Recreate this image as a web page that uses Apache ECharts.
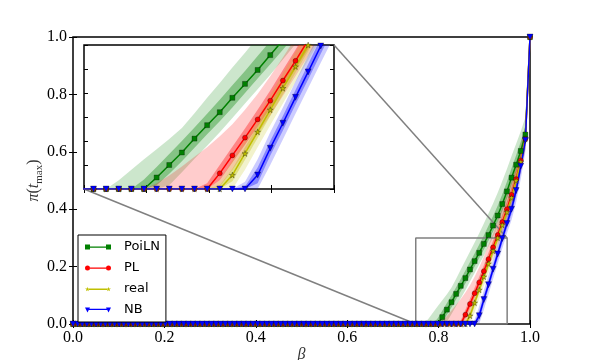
<!DOCTYPE html>
<html><head><meta charset="utf-8">
<script src="https://cdn.jsdelivr.net/npm/echarts@6/dist/echarts.min.js"></script>
<style>html,body{margin:0;padding:0;background:#fff}#c{width:590px;height:360px}</style>
</head><body><div id="c"></div>
<script>
// beta grid (100 samples from 0 to 1)
const betas = [0,.0101,.0202,.0303,.0404,.0505,.0606,.0707,.0808,.0909,
.1010,.1111,.1212,.1313,.1414,.1515,.1616,.1717,.1818,.1919,
.2020,.2121,.2222,.2323,.2424,.2525,.2626,.2727,.2828,.2929,
.3030,.3131,.3232,.3333,.3434,.3535,.3636,.3737,.3838,.3939,
.4040,.4141,.4242,.4343,.4444,.4545,.4646,.4747,.4848,.4949,
.5051,.5152,.5253,.5354,.5455,.5556,.5657,.5758,.5859,.5960,
.6061,.6162,.6263,.6364,.6465,.6566,.6667,.6768,.6869,.6970,
.7071,.7172,.7273,.7374,.7475,.7576,.7677,.7778,.7879,.7980,
.8081,.8182,.8283,.8384,.8485,.8586,.8687,.8788,.8889,.8990,
.9091,.9192,.9293,.9394,.9495,.9596,.9697,.9798,.9899,1];

// centre curves (full grid)
const PoiLN = [0,0,0,0,0,0,0,0,0,0,0,0,0,0,0,0,0,0,0,0,0,0,0,0,0,
0,0,0,0,0,0,0,0,0,0,0,0,0,0,0,0,0,0,0,0,0,0,0,0,0,
0,0,0,0,0,0,0,0,0,0,0,0,0,0,0,0,0,0,0,0,0,0,0,0,0,
0,0,0,0,0,.024,.05,.076,.105,.133,.160,.190,.219,.248,.279,.31,.343,.378,.418,.462,.51,.555,.603,.66,1];
const PL = [0,0,0,0,0,0,0,0,0,0,0,0,0,0,0,0,0,0,0,0,0,0,0,0,0,
0,0,0,0,0,0,0,0,0,0,0,0,0,0,0,0,0,0,0,0,0,0,0,0,0,
0,0,0,0,0,0,0,0,0,0,0,0,0,0,0,0,0,0,0,0,0,0,0,0,0,
0,0,0,0,0,0,0,0,0,0,.0326,.07,.107,.145,.184,.226,.267,.31,.355,.40,.45,.505,.57,.645,1];
const real = [0,0,0,0,0,0,0,0,0,0,0,0,0,0,0,0,0,0,0,0,0,0,0,0,0,
0,0,0,0,0,0,0,0,0,0,0,0,0,0,0,0,0,0,0,0,0,0,0,0,0,
0,0,0,0,0,0,0,0,0,0,0,0,0,0,0,0,0,0,0,0,0,0,0,0,0,
0,0,0,0,0,0,0,0,0,0,0,.029,.074,.119,.165,.21,.255,.30,.345,.39,.44,.50,.565,.645,1];
const NB = [0,0,0,0,0,0,0,0,0,0,0,0,0,0,0,0,0,0,0,0,0,0,0,0,0,
0,0,0,0,0,0,0,0,0,0,0,0,0,0,0,0,0,0,0,0,0,0,0,0,0,
0,0,0,0,0,0,0,0,0,0,0,0,0,0,0,0,0,0,0,0,0,0,0,0,0,
0,0,0,0,0,0,0,0,0,0,0,0,0,.029,.085,.137,.191,.244,.298,.35,.40,.465,.55,.64,1];

// confidence bands, from grid index 75 onwards
const bandStart = 75;
const PoiLN_lightHi = [0,0,.018,.04,.062,.083,.104,.127,.158,.19,.221,.253,.284,.316,.35,.385,.42,.457,.498,.54,.585,.628,.672,.72,1];
const PoiLN_darkHi  = [0,0,0,0,.02,.046,.073,.1,.128,.157,.186,.216,.246,.277,.308,.342,.376,.412,.452,.496,.543,.588,.635,.69,1];
const PoiLN_darkLo  = [0,0,0,0,0,.008,.032,.058,.086,.114,.141,.17,.2,.23,.26,.29,.322,.356,.394,.437,.484,.53,.578,.635,1];
const PoiLN_lightLo = [0,0,0,0,0,0,.008,.035,.063,.09,.118,.148,.178,.208,.238,.27,.302,.336,.374,.416,.462,.508,.556,.612,1];

const PL_lightHi = [0,0,0,0,0,.012,.028,.047,.067,.087,.11,.135,.165,.198,.235,.274,.315,.358,.403,.45,.50,.555,.62,.69,1];
const PL_darkHi  = [0,0,0,0,0,0,0,0,0,.012,.05,.088,.126,.165,.205,.248,.29,.334,.38,.426,.477,.533,.598,.67,1];
const PL_darkLo  = [0,0,0,0,0,0,0,0,0,0,.018,.055,.092,.13,.168,.209,.25,.292,.336,.38,.43,.483,.548,.625,1];
const PL_lightLo = [0,0,0,0,0,0,0,0,0,0,.005,.04,.077,.115,.153,.194,.235,.277,.32,.364,.413,.466,.53,.608,1];

const real_lightHi = [0,0,0,0,0,0,0,0,0,0,.018,.06,.105,.15,.196,.241,.286,.331,.376,.422,.474,.535,.60,.68,1];
const real_darkHi  = [0,0,0,0,0,0,0,0,0,0,.008,.042,.087,.132,.178,.223,.268,.313,.358,.404,.455,.515,.58,.66,1];
const real_darkLo  = [0,0,0,0,0,0,0,0,0,0,0,.016,.061,.106,.152,.197,.242,.287,.332,.376,.425,.485,.55,.63,1];
const real_lightLo = [0,0,0,0,0,0,0,0,0,0,0,0,.04,.087,.133,.178,.223,.268,.313,.357,.405,.465,.53,.61,1];

const NB_lightHi = [0,0,0,0,0,0,0,0,0,0,0,0,.015,.062,.118,.17,.224,.278,.332,.385,.438,.508,.595,.68,1];
const NB_darkHi  = [0,0,0,0,0,0,0,0,0,0,0,0,.005,.045,.1,.152,.206,.26,.314,.366,.418,.485,.572,.66,1];
const NB_darkLo  = [0,0,0,0,0,0,0,0,0,0,0,0,0,.012,.07,.122,.176,.228,.282,.334,.383,.446,.528,.62,1];
const NB_lightLo = [0,0,0,0,0,0,0,0,0,0,0,0,0,0,.05,.103,.157,.21,.263,.315,.362,.424,.505,.60,1];

const seriesNames = ['PoiLN','PL','real','NB'];
const insetX = [0.75, 0.95];
const insetY = [0, 0.3];

// ---------------- styling ----------------
const starPath = 'path://M50,0 L61,35 L98,35 L68,57 L79,91 L50,70 L21,91 L32,57 L2,35 L39,35 Z';
const legendIcons = {
  PoiLN: 'path://M0,0h5v5h-5z M21,0h5v5h-5z M5,1.9h16v1.3h-16z',
  PL: 'path://M0,2.5a2.5,2.5 0 1,0 5,0a2.5,2.5 0 1,0 -5,0z M21,2.5a2.5,2.5 0 1,0 5,0a2.5,2.5 0 1,0 -5,0z M5,1.9h16v1.3h-16z',
  real: 'path://M2.5,0L3.05,1.75L4.9,1.75L3.4,2.85L3.95,4.55L2.5,3.5L1.05,4.55L1.6,2.85L0.1,1.75L1.95,1.75Z M23.5,0L24.05,1.75L25.9,1.75L24.4,2.85L24.95,4.55L23.5,3.5L22.05,4.55L22.6,2.85L21.1,1.75L22.95,1.75Z M4,1.9h18v1.3h-18z',
  NB: 'path://M0,0h5l-2.5,5z M21,0h5l-2.5,5z M4,1.2h18v1.3h-18z'
};
const models = [
  {name:'PoiLN', y:PoiLN, bands:[PoiLN_lightLo,PoiLN_lightHi,PoiLN_darkLo,PoiLN_darkHi], rgb:[0,128,0], color:'#008000', symbol:'rect', size:5, rot:0},
  {name:'PL', y:PL, bands:[PL_lightLo,PL_lightHi,PL_darkLo,PL_darkHi], rgb:[255,0,0], color:'#ff0000', symbol:'circle', size:5, rot:0},
  {name:'real', y:real, bands:[real_lightLo,real_lightHi,real_darkLo,real_darkHi], rgb:[191,191,0], color:'#bfbf00', symbol:starPath, size:6, rot:0},
  {name:'NB', y:NB, bands:[NB_lightLo,NB_lightHi,NB_darkLo,NB_darkHi], rgb:[0,0,255], color:'#0000ff', symbol:'triangle', size:6, rot:180}
];
const bandX = betas.slice(bandStart);

function band(lo, hi, rgb, alpha, axisIdx){
  return {
    type:'custom', xAxisIndex:axisIdx, yAxisIndex:axisIdx, clip:true, silent:true, z:1,
    data: bandX.map((x,i)=>[x, lo[i], hi[i]]),
    encode:{x:0, y:[1,2]},
    renderItem:function(params, api){
      if(params.dataIndex!==0) return null;
      const up=[], dn=[];
      for(let i=0;i<bandX.length;i++){
        up.push(api.coord([bandX[i], hi[i]]));
        dn.unshift(api.coord([bandX[i], lo[i]]));
      }
      return {type:'polygon', shape:{points:up.concat(dn)},
        style:{fill:'rgba('+rgb.join(',')+','+alpha+')', stroke:null}};
    }
  };
}
function line(m, axisIdx, inset){
  return {
    type:'line', name:m.name, xAxisIndex:axisIdx, yAxisIndex:axisIdx, clip:true, z:3,
    data: betas.map((b,i)=>{
      const v=[b, m.y[i]];
      if(inset && (b < insetX[0]-1e-6 || b > insetX[1]+1e-6 || m.y[i] > insetY[1]+0.004)) return {value:v, symbol:'none'};
      return {value:v};
    }),
    symbol:m.symbol, symbolSize:m.size, symbolRotate:m.rot, showAllSymbol:true,
    lineStyle:{color:m.color, width:1.5},
    itemStyle:{color:m.color, borderColor:'rgba(0,0,0,0.6)', borderWidth:0.5},
    emphasis:{disabled:true}
  };
}
const series = [];
[0,2].forEach(ax=>{
  models.forEach(m=>{
    series.push(band(m.bands[0], m.bands[1], m.rgb, 0.2, ax));
    series.push(band(m.bands[2], m.bands[3], m.rgb, 0.35, ax));
  });
  models.forEach(m=>series.push(line(m, ax, ax===2)));
});
// zoom box in main axes
series.push({type:'line', xAxisIndex:0, yAxisIndex:0, symbol:'none', silent:true, z:2,
  data:[[insetX[0],insetY[0]],[insetX[0],insetY[1]],[insetX[1],insetY[1]],[insetX[1],insetY[0]],[insetX[0],insetY[0]]],
  lineStyle:{color:'#808080', width:1.5}});

const labelFont = {fontFamily:'Liberation Serif', fontSize:16, color:'#000'};
function xa(grid, min, max, interval, showLabel, pos){
  return {type:'value', gridIndex:grid, min:min, max:max, interval:interval, position:pos,
    axisLine:{show:false}, splitLine:{show:false},
    axisTick:{show:true, inside:true, length:4, lineStyle:{color:'#000', width:1}},
    axisLabel:Object.assign({show:showLabel, margin:6, formatter:v=>v.toFixed(1)}, labelFont)};
}
const xAxes = [
  Object.assign(xa(0,0,1,0.2,true,'bottom'), {name:'β', nameLocation:'middle', nameGap:23, nameMoveOverlap:false,
    nameTextStyle:{fontFamily:'Liberation Serif', fontStyle:'italic', fontSize:16, color:'#333'}}),
  xa(0,0,1,0.2,false,'top'),
  xa(1,insetX[0],insetX[1],0.05,false,'bottom'),
  xa(1,insetX[0],insetX[1],0.05,false,'top')
];
const yAxes = [
  Object.assign(xa(0,0,1,0.2,true,'left'), {name:'{i|π}{r|(}{i|t}{s|max}{r|)}', nameLocation:'middle', nameGap:28, nameRotate:90, nameMoveOverlap:false,
    nameTextStyle:{rich:{
      i:{fontFamily:'Liberation Serif', fontStyle:'italic', fontSize:16, color:'#333', lineHeight:22, verticalAlign:'middle'},
      r:{fontFamily:'Liberation Serif', fontSize:16, color:'#333', lineHeight:22, verticalAlign:'middle'},
      s:{fontFamily:'Liberation Serif', fontSize:11, color:'#333', lineHeight:22, verticalAlign:'bottom'}}}}),
  xa(0,0,1,0.2,false,'right'),
  xa(1,insetY[0],insetY[1],0.05,false,'left'),
  xa(1,insetY[0],insetY[1],0.05,false,'right')
];

const chart = echarts.init(document.getElementById('c'), null, {renderer:'canvas'});
chart.setOption({
  animation:false,
  backgroundColor:'#fff',
  grid:[
    {left:73, top:37, width:457, height:287, show:true, borderColor:'#000', borderWidth:1.5, backgroundColor:'transparent', containLabel:false, outerBoundsMode:'none'},
    {left:84, top:45, width:250, height:144, show:true, borderColor:'#000', borderWidth:1.5, backgroundColor:'#fff', containLabel:false, outerBoundsMode:'none'}
  ],
  xAxis:xAxes, yAxis:yAxes,
  legend:{data:seriesNames.map(n=>({name:n, icon:legendIcons[n]})), orient:'vertical', left:78, top:235, padding:[5,6,5,7], itemWidth:26, itemHeight:5, itemGap:7,
    backgroundColor:'#fff', borderColor:'#000', borderWidth:1, borderRadius:0, z:20,
    itemStyle:{borderWidth:0},
    textStyle:{fontFamily:'DejaVu Sans', fontSize:13, color:'#000', lineHeight:14, padding:[0,0,0,8]}},
  series:series
});
// connector lines between inset and zoom box
const mainBL = chart.convertToPixel({xAxisIndex:0, yAxisIndex:0}, [insetX[0], insetY[0]]);
const mainTR = chart.convertToPixel({xAxisIndex:0, yAxisIndex:0}, [insetX[1], insetY[1]]);
const insBL = chart.convertToPixel({xAxisIndex:2, yAxisIndex:2}, [insetX[0], insetY[0]]);
const insTR = chart.convertToPixel({xAxisIndex:2, yAxisIndex:2}, [insetX[1], insetY[1]]);
chart.setOption({graphic:[
  {type:'line', z:2, silent:true, shape:{x1:insBL[0], y1:insBL[1], x2:mainBL[0], y2:mainBL[1]}, style:{stroke:'#808080', lineWidth:1.5}},
  {type:'line', z:2, silent:true, shape:{x1:insTR[0], y1:insTR[1], x2:mainTR[0], y2:mainTR[1]}, style:{stroke:'#808080', lineWidth:1.5}}
]});
</script></body></html>
